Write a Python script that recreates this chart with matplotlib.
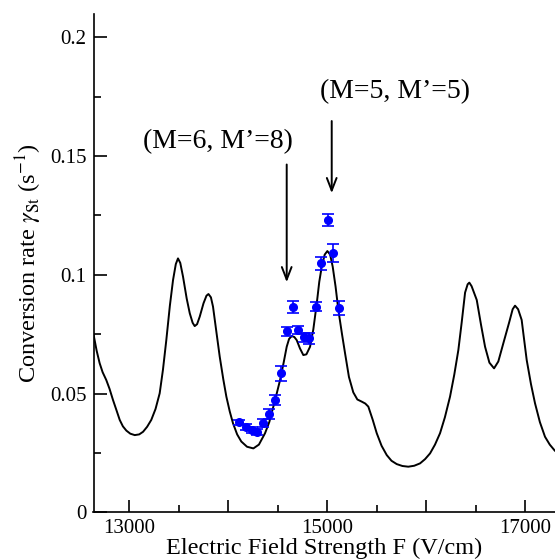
import numpy as np
import matplotlib
matplotlib.use('Agg')
from matplotlib import pyplot as plt
from matplotlib.ticker import MultipleLocator, FixedLocator

plt.rcParams['font.family'] = 'Liberation Serif'
plt.rcParams['mathtext.fontset'] = 'stix'

# theory curve, conversion rate vs field
field = [12640, 12670, 12700, 12730, 12767, 12800, 12835, 12870, 12903, 12935,
         12970, 13010, 13055, 13100, 13139, 13180, 13222, 13265, 13307, 13340,
         13374, 13410, 13442, 13470, 13492, 13515, 13543, 13580, 13611, 13640,
         13661, 13685, 13712, 13750, 13780, 13800, 13825, 13846, 13880, 13914,
         13950, 13981, 14015, 14048, 14090, 14132, 14190, 14254, 14310, 14372,
         14415, 14456, 14490, 14524, 14560, 14591, 14615, 14642, 14668, 14692,
         14725, 14759, 14790, 14827, 14860, 14895, 14920, 14945, 14975, 15002,
         15030, 15056, 15085, 15113, 15150, 15181, 15220, 15264, 15305, 15349,
         15385, 15416, 15460, 15501, 15550, 15602, 15650, 15703, 15760, 15820,
         15880, 15939, 15990, 16040, 16090, 16141, 16190, 16242, 16285, 16326,
         16360, 16394, 16420, 16437, 16460, 16512, 16555, 16596, 16640, 16687,
         16730, 16781, 16840, 16875, 16899, 16930, 16966, 16990, 17017, 17060,
         17101, 17150, 17202, 17250, 17300]
rate = [0.0745, 0.0680, 0.0628, 0.0590, 0.0557, 0.0520, 0.0473, 0.0430, 0.0389, 0.0362,
        0.0344, 0.0331, 0.0325, 0.0328, 0.0339, 0.0360, 0.0389, 0.0435, 0.0501, 0.0600,
        0.0725, 0.0870, 0.0978, 0.1045, 0.1069, 0.1050, 0.0992, 0.0900, 0.0838, 0.0798,
        0.0784, 0.0792, 0.0824, 0.0880, 0.0912, 0.0919, 0.0905, 0.0866, 0.0760, 0.0655,
        0.0560, 0.0487, 0.0425, 0.0375, 0.0328, 0.0298, 0.0276, 0.0269, 0.0285, 0.0333,
        0.0380, 0.0445, 0.0500, 0.0557, 0.0630, 0.0697, 0.0730, 0.0742, 0.0738, 0.0725,
        0.0690, 0.0662, 0.0665, 0.0697, 0.0770, 0.0880, 0.0970, 0.1034, 0.1085, 0.1100,
        0.1085, 0.1034, 0.0950, 0.0852, 0.0750, 0.0669, 0.0570, 0.0505, 0.0475, 0.0466,
        0.0458, 0.0445, 0.0390, 0.0333, 0.0280, 0.0241, 0.0217, 0.0203, 0.0195, 0.0192,
        0.0196, 0.0206, 0.0224, 0.0248, 0.0285, 0.0333, 0.0400, 0.0487, 0.0580, 0.0683,
        0.0800, 0.0925, 0.0960, 0.0967, 0.0952, 0.0894, 0.0790, 0.0697, 0.0630, 0.0606,
        0.0635, 0.0712, 0.0800, 0.0855, 0.0870, 0.0855, 0.0810, 0.0730, 0.0641, 0.0540,
        0.0459, 0.0380, 0.0318, 0.0285, 0.0260]

# measured points
f_exp = [14109, 14177, 14237, 14288, 14355, 14412, 14473, 14531, 14591, 14652,
         14709, 14769, 14820, 14888, 14938, 15006, 15062, 15120]
g_exp = [0.0379, 0.0360, 0.0347, 0.0339, 0.0375, 0.0413, 0.0473, 0.0585, 0.0763, 0.0866,
         0.0768, 0.0737, 0.0733, 0.0866, 0.1048, 0.1231, 0.1091, 0.0859]
g_err = [0.0011, 0.0012, 0.0012, 0.0012, 0.0017, 0.0020, 0.0021, 0.0031, 0.0019, 0.0025,
         0.0018, 0.0020, 0.0023, 0.0020, 0.0028, 0.0027, 0.0039, 0.0029]

fig = plt.figure(figsize=(5.55, 5.59), dpi=100)
ax = fig.add_axes([93.5/555, 46.7/559, 461.5/555, 498.3/559])

ax.plot(field, rate, color='black', linewidth=1.4)
ax.errorbar(f_exp, g_exp, yerr=g_err, fmt='o', color='blue', markersize=5.5,
            capsize=4.5, elinewidth=1.2, capthick=1.2)

ax.annotate('', xy=(14591, 0.0957), xytext=(14591, 0.1476),
            arrowprops=dict(arrowstyle='->,head_length=0.9,head_width=0.35', color='black', lw=1.4))
ax.annotate('', xy=(15046, 0.1332), xytext=(15046, 0.1659),
            arrowprops=dict(arrowstyle='->,head_length=0.9,head_width=0.35', color='black', lw=1.4))
ax.text(13899, 0.1561, '(M=6, M\u2019=8)', fontsize=20, ha='center', va='center')
ax.text(15687, 0.1771, '(M=5, M\u2019=5)', fontsize=20, ha='center', va='center')

ax.set_xlim(12638, 17303)
ax.set_ylim(0, 0.2098)
ax.spines['top'].set_visible(False)
ax.spines['right'].set_visible(False)
ax.spines['left'].set_linewidth(1.2)
ax.spines['bottom'].set_linewidth(1.2)

ax.xaxis.set_major_locator(FixedLocator([13000, 14000, 15000, 16000, 17000]))
ax.set_xticklabels(['13000', '', '15000', '', '17000'])
ax.xaxis.set_minor_locator(MultipleLocator(500))
ax.yaxis.set_major_locator(FixedLocator([0, 0.05, 0.1, 0.15, 0.2]))
ax.set_yticklabels(['0', '0.05', '0.1', '0.15', '0.2'])
ax.yaxis.set_minor_locator(MultipleLocator(0.025))
ax.tick_params(which='major', direction='in', length=9, width=1.2, labelsize=15, pad=5)
ax.tick_params(which='minor', direction='in', length=5, width=1.2)

ax.set_xlabel('Electric Field Strength F (V/cm)', fontsize=17.5, labelpad=0)
ax.set_ylabel(r'Conversion rate $\gamma_{\mathrm{St}}$ (s$^{-1}$)', fontsize=17.5, labelpad=4)

fig.savefig('out.png', dpi=100)
